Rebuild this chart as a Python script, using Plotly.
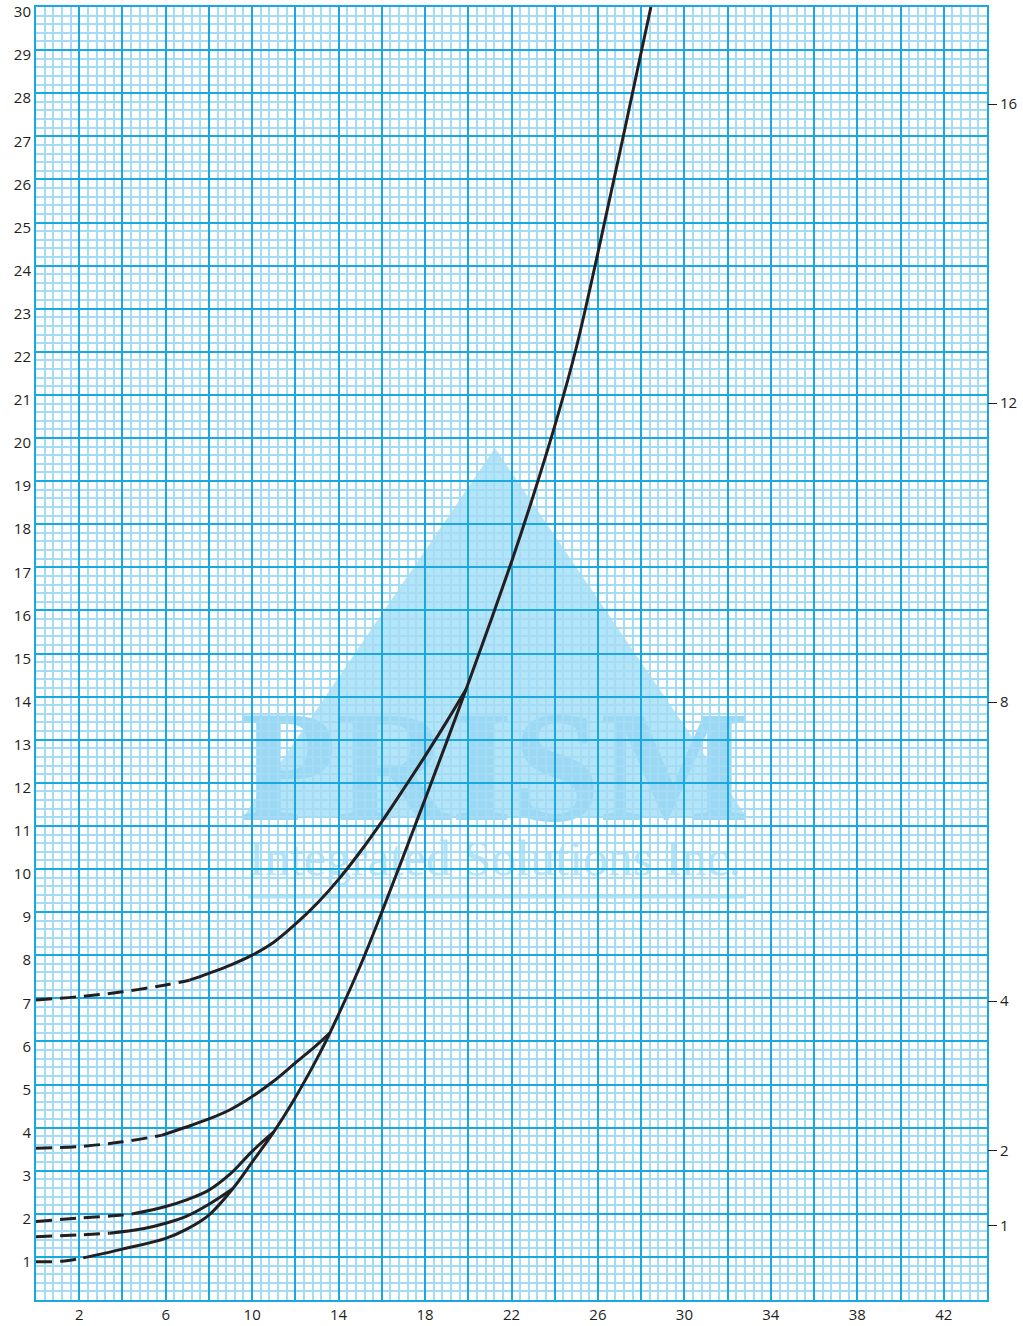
import plotly.graph_objects as go

# ---------------- data ----------------
x_tick_values = [0, 2, 4, 6, 8, 10, 12, 14, 16, 18, 20, 22, 24, 26, 28, 30, 32, 34, 36, 38, 40, 42, 44]
x_tick_labels = ["", "2", "", "6", "", "10", "", "14", "", "18", "", "22", "", "26", "", "30", "", "34", "", "38", "", "42", ""]

y_tick_values = [0, 1, 2, 3, 4, 5, 6, 7, 8, 9, 10, 11, 12, 13, 14, 15, 16, 17, 18, 19, 20,
                 21, 22, 23, 24, 25, 26, 27, 28, 29, 30]
y_tick_labels = ["", "1", "2", "3", "4", "5", "6", "7", "8", "9", "10", "11", "12", "13", "14", "15",
                 "16", "17", "18", "19", "20", "21", "22", "23", "24", "25", "26", "27", "28", "29", "30"]

right_tick_values = [1, 2, 4, 8, 12, 16]
right_tick_labels = ["1", "2", "4", "8", "12", "16"]

# curve A (main curve)
a_dash_x = [0, 1.2, 2.0, 2.4]
a_dash_y = [0.89, 0.9, 0.96, 1.0]
a_solid_x = [2.4, 4, 6, 7, 8, 9.1, 10, 11, 12, 13, 13.6, 15, 16, 17, 18, 19, 19.9,
             21, 22.05, 23, 24.1, 25, 26, 27, 28, 28.45]
a_solid_y = [1.0, 1.18, 1.43, 1.65, 1.97, 2.58, 3.2, 3.9, 4.7, 5.6, 6.2, 7.75, 9.0, 10.3, 11.62, 12.95, 14.17,
             15.7, 17.2, 18.65, 20.45, 22.1, 24.3, 26.6, 28.95, 30.0]
# curve B
b_dash_x = [0, 2, 3.4]
b_dash_y = [1.47, 1.51, 1.55]
b_solid_x = [3.4, 5, 6, 7, 8, 9.1]
b_solid_y = [1.55, 1.66, 1.78, 1.95, 2.22, 2.58]
# curve C
c_dash_x = [0, 2, 4, 4.5]
c_dash_y = [1.82, 1.9, 1.97, 2.0]
c_solid_x = [4.5, 6, 7, 8, 9, 10, 11]
c_solid_y = [2.0, 2.17, 2.33, 2.55, 2.93, 3.45, 3.9]
# curve D
d_dash_x = [0, 2, 4, 5.8]
d_dash_y = [3.52, 3.56, 3.67, 3.82]
d_solid_x = [5.8, 7, 8, 9, 10, 11, 12, 13, 13.6]
d_solid_y = [3.82, 4.02, 4.2, 4.42, 4.72, 5.08, 5.5, 5.92, 6.2]
# curve E
e_dash_x = [0, 2, 4, 6, 7.1]
e_dash_y = [6.96, 7.04, 7.15, 7.31, 7.42]
e_solid_x = [7.1, 8, 9, 10, 11, 12, 13, 14, 15, 16, 17, 18, 19, 19.9]
e_solid_y = [7.42, 7.58, 7.77, 8.0, 8.3, 8.72, 9.2, 9.76, 10.4, 11.1, 11.85, 12.62, 13.42, 14.17]

# ---------------- style ----------------
MAJOR = "#1aa8e0"
MINOR = "#a3dcf4"
INK = "#231f20"
WM = "#b4e4f8"
WM_TEXT = "#9ad8f4"
FONT = "Open Sans"

fig = go.Figure()

segments = [
    (a_dash_x, a_dash_y, True), (a_solid_x, a_solid_y, False),
    (b_dash_x, b_dash_y, True), (b_solid_x, b_solid_y, False),
    (c_dash_x, c_dash_y, True), (c_solid_x, c_solid_y, False),
    (d_dash_x, d_dash_y, True), (d_solid_x, d_solid_y, False),
    (e_dash_x, e_dash_y, True), (e_solid_x, e_solid_y, False),
]
for xs, ys, dashed in segments:
    fig.add_trace(go.Scatter(
        x=xs, y=ys, mode="lines",
        line=dict(color=INK, width=3, shape="spline", smoothing=1.0,
                  dash="16px,8px" if dashed else "solid"),
        hoverinfo="skip", showlegend=False,
    ))

# invisible trace to activate right axis
fig.add_trace(go.Scatter(x=[None], y=[None], yaxis="y2", showlegend=False, hoverinfo="skip"))

# watermark (paper coordinates)
fig.add_shape(type="path", xref="paper", yref="paper", layer="below",
              path="M 0.4826 0.6589 L 0.2187 0.3744 L 0.7466 0.3744 Z",
              fillcolor=WM, line=dict(width=0))
fig.add_shape(type="rect", xref="paper", yref="paper", layer="below",
              x0=0.22, x1=0.745, y0=0.384, y1=0.467,
              line=dict(width=0), fillcolor="rgba(0,0,0,0)",
              label=dict(text="PRISM", textposition="middle center",
                         font=dict(family="Liberation Serif", size=158, color=WM_TEXT, weight="bold")))
fig.add_shape(type="rect", xref="paper", yref="paper", layer="below",
              x0=0.22, x1=0.745, y0=0.329, y1=0.362,
              line=dict(width=0), fillcolor="rgba(0,0,0,0)",
              label=dict(text="Integrated Solutions Inc.", textposition="middle center",
                         font=dict(family="Liberation Serif", size=50, color=WM)))
fig.add_shape(type="line", xref="paper", yref="paper", layer="below",
              x0=0.2229, x1=0.7455, y0=0.3117, y1=0.3117,
              line=dict(color=WM, width=3))

fig.update_layout(
    width=1023, height=1326,
    margin=dict(l=36, r=36, t=7, b=26, autoexpand=False),
    paper_bgcolor="white", plot_bgcolor="white",
    showlegend=False,
    font=dict(family=FONT, size=15, color=INK),
    xaxis=dict(
        range=[0, 44], tickmode="array", tickvals=x_tick_values, ticktext=x_tick_labels,
        showgrid=True, gridcolor=MAJOR, gridwidth=2, zeroline=False,
        showline=True, linecolor=MAJOR, linewidth=2, mirror=True, ticks="",
        minor=dict(tickmode="linear", tick0=0, dtick=0.4, showgrid=True, gridcolor=MINOR, gridwidth=1.5, ticks=""),
        tickfont=dict(family=FONT, size=15, color=INK), automargin=False,
        ticklabeloverflow="allow",
    ),
    yaxis=dict(
        range=[0, 30], tickmode="array", tickvals=y_tick_values, ticktext=y_tick_labels,
        showgrid=True, gridcolor=MAJOR, gridwidth=2, zeroline=False,
        showline=True, linecolor=MAJOR, linewidth=2, mirror=True, ticks="",
        minor=dict(tickmode="linear", tick0=0, dtick=0.2, showgrid=True, gridcolor=MINOR, gridwidth=1.5, ticks=""),
        tickfont=dict(family=FONT, size=15, color=INK), automargin=False,
        ticklabeloverflow="allow", ticklabelshift=5,
    ),
    yaxis2=dict(
        overlaying="y", side="right", range=[0, 17.3],
        tickmode="array", tickvals=right_tick_values, ticktext=right_tick_labels,
        showgrid=False, zeroline=False, showline=False,
        ticks="outside", ticklen=9, tickwidth=1, tickcolor=INK,
        tickfont=dict(family=FONT, size=15, color=INK), automargin=False,
        ticklabeloverflow="allow",
    ),
)

fig.write_html("out.html", config={"displayModeBar": False},
               post_script="document.body.style.margin='0px';document.body.style.overflow='hidden';")
